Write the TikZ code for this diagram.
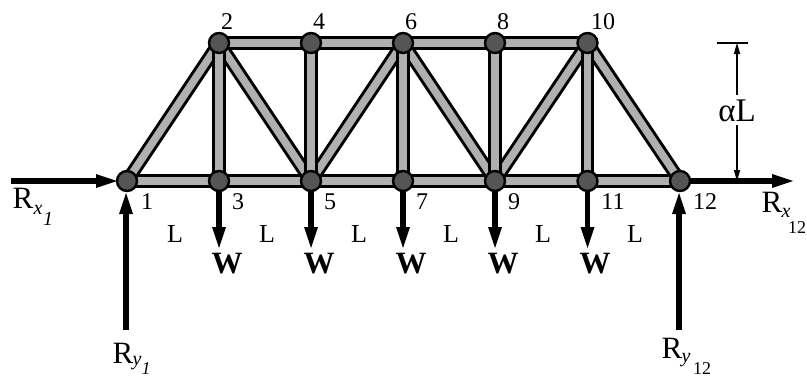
\documentclass[tikz,border=0pt]{standalone}
\usepackage{fontspec}
\setmainfont{Liberation Serif}
\usetikzlibrary{arrows.meta}
\definecolor{jointgray}{HTML}{555555}
\definecolor{bargray}{HTML}{B0B0B0}
\tikzset{
  x=1pt,y=-1pt,
  joint/.style={circle,draw=black,line width=2.4pt,fill=jointgray,minimum size=20pt,inner sep=0pt},
  load/.style={line width=5.5pt,-{Triangle[length=21pt,width=14pt,line width=0pt]}},
  dim/.style={line width=1.8pt,-{Triangle[length=11pt,width=6.5pt,line width=0pt]}},
  num/.style={font=\fontsize{24}{24}\selectfont,inner sep=0pt},
  spanl/.style={font=\fontsize{26}{26}\selectfont,inner sep=0pt},
  force/.style={font=\fontsize{31}{31}\selectfont,inner sep=0pt},
  subi/.style={font=\fontsize{20}{20}\selectfont\itshape,inner sep=0pt},
  subn/.style={font=\fontsize{18}{18}\selectfont,inner sep=0pt},
  wlabel/.style={font=\fontsize{31}{31}\selectfont\bfseries,inner sep=0pt},
}
\newcommand{\barlink}[2]{%
  \draw[line width=13.5pt,black] (#1.center) -- (#2.center);
  \draw[line width=7.5pt,bargray] (#1.center) -- (#2.center);}
\begin{document}
\begin{tikzpicture}
\useasboundingbox (0,0) rectangle (807,380);
\coordinate (c1) at (127,181);
\coordinate (c2) at (219,43);
\coordinate (c3) at (219,181);
\coordinate (c4) at (311,43);
\coordinate (c5) at (311,181);
\coordinate (c6) at (403,43);
\coordinate (c7) at (403,181);
\coordinate (c8) at (495,43);
\coordinate (c9) at (495,181);
\coordinate (c10) at (587.5,43);
\coordinate (c11) at (587.5,181);
\coordinate (c12) at (680,181);
% loads
\coordinate (rxs) at (11,181);
\coordinate (rxt) at (117,181);
\coordinate (rys) at (126,330);
\coordinate (ryt) at (126,193);
\coordinate (rxe) at (793,181);
\coordinate (rzs) at (679,330);
\coordinate (rzt) at (679,193);
\coordinate (w3) at (219,248);
\coordinate (w5) at (311,248);
\coordinate (w7) at (403,248);
\coordinate (w9) at (495,248);
\coordinate (w11) at (587.5,248);
% members
\barlink{c1}{c3}\barlink{c3}{c5}\barlink{c5}{c7}\barlink{c7}{c9}\barlink{c9}{c11}\barlink{c11}{c12}
\barlink{c1}{c2}\barlink{c2}{c5}\barlink{c5}{c6}\barlink{c6}{c9}\barlink{c9}{c10}\barlink{c10}{c12}
\barlink{c2}{c3}\barlink{c4}{c5}\barlink{c6}{c7}\barlink{c8}{c9}\barlink{c10}{c11}
\barlink{c2}{c4}\barlink{c4}{c6}\barlink{c6}{c8}\barlink{c8}{c10}
% forces
\draw[load] (rxs) -- (rxt);
\draw[load] (rys) -- (ryt);
\draw[load] (c12) -- (rxe);
\draw[load] (rzs) -- (rzt);
\foreach \n in {3,5,7,9,11}{\draw[load] (c\n) -- (w\n);}
% joints
\foreach \n in {1,...,12}{\node[joint] (j\n) at (c\n) {};}
% height dimension
\coordinate (tl) at (717,43);
\coordinate (tr) at (748,43);
\coordinate (dt) at (737,43);
\coordinate (db) at (737,181);
\coordinate (du) at (737,95);
\coordinate (dd) at (737,125);
\draw[line width=2.8pt] (tl) -- (tr);
\draw[dim] (du) -- (dt);
\draw[dim] (dd) -- (db);
\node[font=\fontsize{33}{33}\selectfont,inner sep=0pt] (al) at (737,111) {αL};
% joint numbers
\node[num] (n1) at (147,202) {1};
\node[num] (n2) at (227,22) {2};
\node[num] (n3) at (238,202) {3};
\node[num] (n4) at (319,22) {4};
\node[num] (n5) at (330,202) {5};
\node[num] (n6) at (411,22) {6};
\node[num] (n7) at (422,202) {7};
\node[num] (n8) at (503,22) {8};
\node[num] (n9) at (514,202) {9};
\node[num] (n10) at (603,22) {10};
\node[num] (n11) at (613,202) {11};
\node[num] (n12) at (705,202) {12};
% spans
\foreach \x [count=\i] in {175,267,359,451,543,635}{\node[spanl] (s\i) at (\x,234) {L};}
% W
\foreach \x [count=\i] in {227,319,411,503,595}{\node[wlabel] (wl\i) at (\x,264) {W};}
% reactions
\node[force] (r1) at (23,198) {R};
\node[subi] (r1a) at (38,210) {x};
\node[subi] (r1b) at (48,219) {1};
\node[force] (r2) at (123,353) {R};
\node[subi] (r2a) at (137,363) {y};
\node[subi,font=\fontsize{18}{18}\selectfont\itshape] (r2b) at (146,369) {1};
\node[force] (r3) at (772,202) {R};
\node[subi] (r3a) at (786,213) {x};
\node[subn] (r3b) at (797,228) {12};
\node[force] (r4) at (672,348) {R};
\node[subi] (r4a) at (686,360) {y};
\node[subn] (r4b) at (702,369) {12};
\end{tikzpicture}
\end{document}
